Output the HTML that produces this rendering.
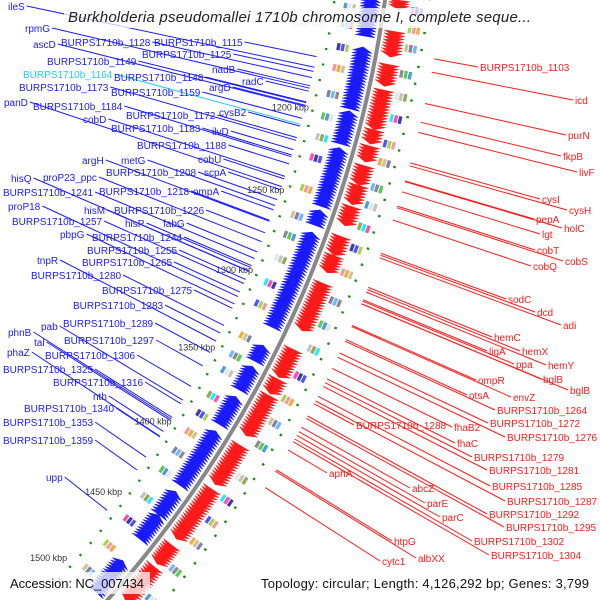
<!DOCTYPE html>
<html><head><meta charset="utf-8"><style>
html,body{margin:0;padding:0;background:#fff;width:600px;height:600px;overflow:hidden;}
svg{display:block;font-family:"Liberation Sans",sans-serif;overflow:hidden;}
</style></head><body>
<svg id="map" width="600" height="600" viewBox="0 0 600 600" xmlns="http://www.w3.org/2000/svg">
<defs><clipPath id="frame"><rect x="0" y="0" width="600" height="600"/></clipPath></defs>
<g clip-path="url(#frame)">
<g id="features"></g>
<g id="lines"></g>
<g id="labels"></g>
<rect x="64" y="8" width="472" height="20" fill="#fff" opacity="0.75"/>
<text x="68" y="22" font-size="15" font-style="italic" fill="#222" textLength="463">Burkholderia pseudomallei 1710b chromosome I, complete seque...</text>
<rect x="4" y="572" width="146" height="22" fill="#fff" opacity="0.75"/>
<rect x="256" y="572" width="340" height="22" fill="#fff" opacity="0.75"/>
<text x="10" y="588" font-size="13" fill="#111" textLength="134">Accession: NC_007434</text>
<text x="261" y="588" font-size="13" fill="#111" textLength="328">Topology: circular; Length: 4,126,292 bp; Genes: 3,799</text>
</g>
</svg>
<script>
// ---- data ----
const blueBlocks = [[1130,1151],[1158,1192],[1194,1212],[1215,1248],[1251,1259],[1264,1301],[1301,1320],[1332,1341],[1345,1359],[1364,1381],[1386,1421],[1426,1441],[1442,1458],[1474,1496]];
const redBlocks = [[1130,1134],[1147,1160],[1165,1176],[1179,1200],[1201,1208],[1210,1218],[1221,1231],[1232,1242],[1244,1254],[1261,1271],[1272,1281],[1288,1315],[1327,1343],[1345,1353],[1355,1379],[1386,1410],[1414,1446],[1451,1463],[1466,1489]];
const innerBoxes = [1135,1145,1158,1170,1185,1198,1210,1222,1240,1256,1268,1282,1297,1310,1330,1342,1352,1368,1380,1392,1405,1418,1436,1452,1470,1488];
const outerBoxes = [1132,1142,1152,1166,1178,1190,1204,1214,1228,1238,1250,1262,1276,1292,1306,1320,1336,1350,1364,1378,1398,1412,1426,1440,1458,1478];
const kbpTicks = [1150,1200,1250,1300,1350,1400,1450,1500];
const kbpTickText = ["1150 kbp","1200 kbp","1250 kbp","1300 kbp","1350 kbp","1400 kbp","1450 kbp","1500 kbp"];
const blueLabels = [
["ileS",8,10],["rpmG",25,32],["BURPS1710b_1128",61,46],["BURPS1710b_1115",154,46],["ascD",33,48],
["BURPS1710b_1125",142,58],["BURPS1710b_1149",47,65],["nadB",212,73],["BURPS1710b_1148",114,81],
["radC",242,85],["BURPS1710b_1173",19,91],["argD",209,91],["BURPS1710b_1159",111,96],["panD",4,106],
["BURPS1710b_1184",33,110],["BURPS1710b_1172",126,119],["cysB2",219,116],["cobD",83,123],
["BURPS1710b_1183",111,132],["ilvD",212,135],["BURPS1710b_1188",137,149],["argH",82,164],["metG",121,164],
["cobU",198,163],["BURPS1710b_1208",106,176],["scpA",204,176],["hisQ",11,182],["proP23_ppc",43,181],
["BURPS1710b_1241",3,196],["BURPS1710b_1218",99,195],["ompA",193,195],["proP18",8,210],["hisM",84,214],
["BURPS1710b_1226",114,214],["BURPS1710b_1257",12,225],["hisP",125,227],["fabG",163,227],["pbpG",60,238],
["BURPS1710b_1244",92,241],["BURPS1710b_1255",87,254],["tnpR",37,264],["BURPS1710b_1265",82,266],
["BURPS1710b_1280",31,279],["BURPS1710b_1275",102,294],["BURPS1710b_1283",73,309],["pab",41,330],
["BURPS1710b_1289",63,327],["phnB",8,336],["BURPS1710b_1297",64,344],["tal",34,346],["phaZ",7,356],
["BURPS1710b_1306",45,359],["BURPS1710b_1325",3,373],["BURPS1710b_1316",53,386],["nth",93,400],
["BURPS1710b_1340",24,412],["BURPS1710b_1353",3,426],["BURPS1710b_1359",3,444],["upp",46,481]];
const cyanLabels = [["BURPS1710b_1164",23,78]];
const redLabels = [
["BURPS1710b_1103",480,71],["icd",575,104],["purN",568,139],["fkpB",563,160],["livF",579,176],
["cysI",542,203],["cysH",569,214],["pepA",536,223],["holC",564,232],["lgt",542,238],["cobT",537,254],
["cobS",565,265],["cobQ",533,270],["sodC",508,303],["dcd",537,316],["adi",563,329],["hemC",494,341],
["ligA",489,355],["hemX",522,355],["ppa",516,368],["hemY",548,369],["bglB",543,383],["bglB",570,394],
["ompR",478,384],["otsA",469,399],["envZ",513,401],["BURPS1710b_1264",497,414],["BURPS1710b_1272",490,427],
["BURPS1710b_1288",356,429],["fhaB2",454,431],["BURPS1710b_1276",507,441],["fhaC",457,447],
["BURPS1710b_1279",474,461],["BURPS1710b_1281",489,474],["aphA",329,477],["BURPS1710b_1285",492,490],
["abcZ",412,492],["BURPS1710b_1287",507,505],["parE",427,507],["BURPS1710b_1292",489,518],
["parC",442,521],["BURPS1710b_1295",506,531],["BURPS1710b_1302",474,545],["htpG",394,545],
["BURPS1710b_1304",491,559],["albXX",418,562],["cytc1",382,565]];

// ---- geometry ----
const CX=-744, CY=-158, R=1140;
const NS="http://www.w3.org/2000/svg";
function ang(k){return (14.4+(k-1200)*0.0923)*Math.PI/180;}
function P(k,r){const a=ang(k);return [CX+r*Math.cos(a),CY+r*Math.sin(a)];}
function mk(tag,attrs,parent){const e=document.createElementNS(NS,tag);for(const k in attrs)e.setAttribute(k,attrs[k]);parent.appendChild(e);return e;}
const F=document.getElementById('features'),L=document.getElementById('lines'),T=document.getElementById('labels');
const pal=["#2e8bcc","#e0e0e0","#b8b8b8","#7a9a3a","#00e5ff","#ff2aa6","#1a1aa0","#3333ff","#9acd32","#e88","#f59a22","#c8b878","#6a6a9a","#55aaff","#777","#40c040"];

// backbone
const bb=[];for(let k=1090;k<=1510;k+=4){bb.push(P(k,R).map(v=>v.toFixed(1)).join(','));}
const bbl=mk('polyline',{points:bb.join(' '),fill:'none',stroke:'#888',"stroke-width":4},F);



// green ticks
for(let k=1090;k<=1510;k+=9){
  [[R-50,R-45],[R+44,R+49]].forEach(rr=>{
    const a=P(k,rr[0]),b=P(k+1.2,rr[0]);
    if(a[1]>600||b[1]>600)return;
    const t=mk('line',{x1:a[0],y1:a[1],x2:b[0],y2:b[1],stroke:'#1a8a1a',"stroke-width":2.5},F);
    
    
  });
}
// genes
function drawBlocks(blocks,r1,r2,color,dir,name){
  blocks.forEach(b=>{
    const n=Math.max(1,Math.round((b[1]-b[0])/1.6));const step=(b[1]-b[0])/n;
    for(let i=0;i<n;i++){
      const s=b[0]+i*step,e=s+step;
      let pts;
      if(dir<0){pts=[P(e+0.6,r1),P(e+0.6,r2),P(s-0.4,(r1+r2)/2)];}
      else{pts=[P(s-0.6,r1),P(s-0.6,r2),P(e+0.4,(r1+r2)/2)];}
      const g=mk('polygon',{points:pts.map(p=>p[0].toFixed(1)+','+p[1].toFixed(1)).join(' '),fill:color,stroke:color,"stroke-width":0.5},F);
      
      
    }
  });
}
drawBlocks(blueBlocks,R-24,R-4,'#1a1aff',-1,'reverse-gene');
drawBlocks(redBlocks,R+4,R+25,'#ff1a1a',1,'forward-gene');
// COG boxes
function drawBoxes(arr,r1,r2,name,off){
  arr.forEach((k,i)=>{
    for(let j=0;j<3;j++){
      const ra=r1+j*(r2-r1)/3,rb=ra+(r2-r1)/3-1;
      const p=[P(k,ra),P(k+4,ra),P(k+4,rb),P(k,rb)];
      const c=pal[(i*3+j+off)%pal.length];
      const g=mk('polygon',{points:p.map(q=>q[0].toFixed(1)+','+q[1].toFixed(1)).join(' '),fill:c,opacity:0.85},F);
      
      
    }
  });
}
drawBoxes(innerBoxes,R-40,R-27,'cog-box-inner',0);
drawBoxes(outerBoxes,R+27,R+40,'cog-box-outer',5);
// kbp tick labels
kbpTicks.forEach((k,i)=>{
  const p=P(k,R-72);
  const t=mk('text',{x:p[0].toFixed(1),y:(p[1]+3).toFixed(1),"font-size":9,fill:i==0?'#bbb':'#333',"text-anchor":'middle'},F);
  t.textContent=kbpTickText[i];
  
  
});
// labels + leader lines
function labelSet(arr,color,side){
  arr.forEach(l=>{
    const t=mk('text',{x:l[1],y:l[2],"font-size":10,fill:color},T);
    t.textContent=l[0];
    
    
    const w=t.getComputedTextLength();
    const ax=side<0?l[1]+w+2:l[1]-2, ay=l[2]-4;
    const dx=ax-CX,dy=ay-CY,d=Math.hypot(dx,dy);
    const rt=side<0?R-58:R+58;
    const ex=CX+dx*rt/d,ey=CY+dy*rt/d;
    const ln=mk('line',{x1:ax.toFixed(1),y1:ay.toFixed(1),x2:ex.toFixed(1),y2:ey.toFixed(1),stroke:color,"stroke-width":1},L);
    
    
  });
}
labelSet(blueLabels,'#1a1aff',-1);
labelSet(cyanLabels,'#22ccee',-1);
labelSet(redLabels,'#ff1a1a',1);
</script>
</body></html>
